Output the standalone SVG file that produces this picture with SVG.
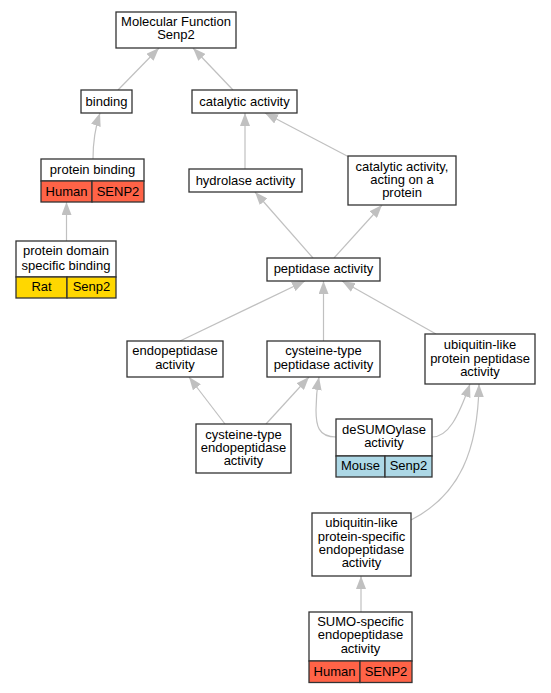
<svg xmlns="http://www.w3.org/2000/svg" width="551" height="693" viewBox="0 0 551 693">
<defs>
<marker id="arr" markerUnits="userSpaceOnUse" markerWidth="13" markerHeight="10" refX="13" refY="5" orient="auto">
<path d="M0,0 L13,5 L0,10 z" fill="#c0c0c0"/>
</marker>
<style>
.n{fill:#fff;stroke:#333;stroke-width:1.3}
.r{fill:#ff6347;stroke:#333;stroke-width:1.3}
.y{fill:#ffd700;stroke:#333;stroke-width:1.3}
.b{fill:#add8e6;stroke:#333;stroke-width:1.3}
text{font-family:"Liberation Sans",Arial,sans-serif;font-size:13px;fill:#000;text-anchor:middle}
.e path{fill:none;stroke:#c0c0c0;stroke-width:1.2;marker-end:url(#arr)}
</style>
</defs>
<rect width="551" height="693" fill="#fff"/>
<g class="e" id="edges">
<path d="M118,90 L159,48"/>
<path d="M233,90 L193,48"/>
<path d="M93,159 C93,140 96,125 100,113"/>
<path d="M66.5,241 L66.5,202"/>
<path d="M245,169 L245,113"/>
<path d="M349,157 L265,113"/>
<path d="M313,258 L255,192"/>
<path d="M334,258 L382,205"/>
<path d="M180,341 L305,281"/>
<path d="M323.5,341 L323.5,281"/>
<path d="M436,334 L342,281"/>
<path d="M225,424 L189,377"/>
<path d="M266,424 L309,377"/>
<path d="M336,437 C318,437 316,425 316,410 C316,398 317,388 319,377"/>
<path d="M432,437 C448,437 458,418 470,384"/>
<path d="M411,520 C460,495 478,450 479,384"/>
<path d="M361,612 L361,576"/>
</g>
<g id="n_mf"><rect class="n" x="116" y="12" width="120" height="36"/><text x="176" y="26">Molecular Function</text><text x="176" y="39">Senp2</text></g>
<g id="n_binding"><rect class="n" x="81" y="90" width="51" height="23"/><text x="106.5" y="106">binding</text></g>
<g id="n_catalytic"><rect class="n" x="192" y="90" width="105" height="23"/><text x="244.5" y="106">catalytic activity</text></g>
<g id="n_protein_binding"><rect class="n" x="41" y="159" width="103" height="22"/><text x="92.5" y="173.5">protein binding</text>
<rect class="r" x="41" y="181" width="51" height="21"/><text x="66.5" y="195.5">Human</text>
<rect class="r" x="92" y="181" width="52" height="21"/><text x="118" y="195.5">SENP2</text></g>
<g id="n_pdsb"><rect class="n" x="16" y="241" width="100" height="36"/><text x="66" y="255">protein domain</text><text x="66" y="269.5">specific binding</text>
<rect class="y" x="16" y="277" width="51" height="21"/><text x="41.5" y="291">Rat</text>
<rect class="y" x="67" y="277" width="49" height="21"/><text x="91.5" y="291">Senp2</text></g>
<g id="n_hydrolase"><rect class="n" x="189" y="169" width="113" height="23"/><text x="245.5" y="184.5">hydrolase activity</text></g>
<g id="n_cap"><rect class="n" x="348" y="156" width="108" height="49"/><text x="402" y="170.5">catalytic activity,</text><text x="402" y="183.5">acting on a</text><text x="402" y="196.5">protein</text></g>
<g id="n_peptidase"><rect class="n" x="267" y="258" width="113" height="23"/><text x="323.5" y="273">peptidase activity</text></g>
<g id="n_endopeptidase"><rect class="n" x="127" y="341" width="96" height="36"/><text x="175" y="355">endopeptidase</text><text x="175" y="369">activity</text></g>
<g id="n_ctpa"><rect class="n" x="267" y="341" width="113" height="36"/><text x="323.5" y="355">cysteine-type</text><text x="323.5" y="369">peptidase activity</text></g>
<g id="n_ulppa"><rect class="n" x="425" y="334" width="110" height="50"/><text x="480" y="349">ubiquitin-like</text><text x="480" y="362.5">protein peptidase</text><text x="480" y="375.5">activity</text></g>
<g id="n_ctea"><rect class="n" x="196" y="424" width="95" height="49"/><text x="243.5" y="438.5">cysteine-type</text><text x="243.5" y="451.5">endopeptidase</text><text x="243.5" y="465">activity</text></g>
<g id="n_desumo"><rect class="n" x="336" y="419" width="96" height="37"/><text x="384" y="434">deSUMOylase</text><text x="384" y="447">activity</text>
<rect class="b" x="336" y="456" width="49" height="21"/><text x="360.5" y="469.5">Mouse</text>
<rect class="b" x="385" y="456" width="47" height="21"/><text x="408.5" y="469.5">Senp2</text></g>
<g id="n_ulpsea"><rect class="n" x="312" y="513" width="99" height="63"/><text x="361.5" y="527">ubiquitin-like</text><text x="361.5" y="541">protein-specific</text><text x="361.5" y="554">endopeptidase</text><text x="361.5" y="567">activity</text></g>
<g id="n_sumo"><rect class="n" x="309" y="612" width="103" height="49"/><text x="360.5" y="626">SUMO-specific</text><text x="360.5" y="639">endopeptidase</text><text x="360.5" y="652.5">activity</text>
<rect class="r" x="309" y="661" width="51" height="21.5"/><text x="334.5" y="675.5">Human</text>
<rect class="r" x="360" y="661" width="52" height="21.5"/><text x="386" y="675.5">SENP2</text></g>
</svg>
